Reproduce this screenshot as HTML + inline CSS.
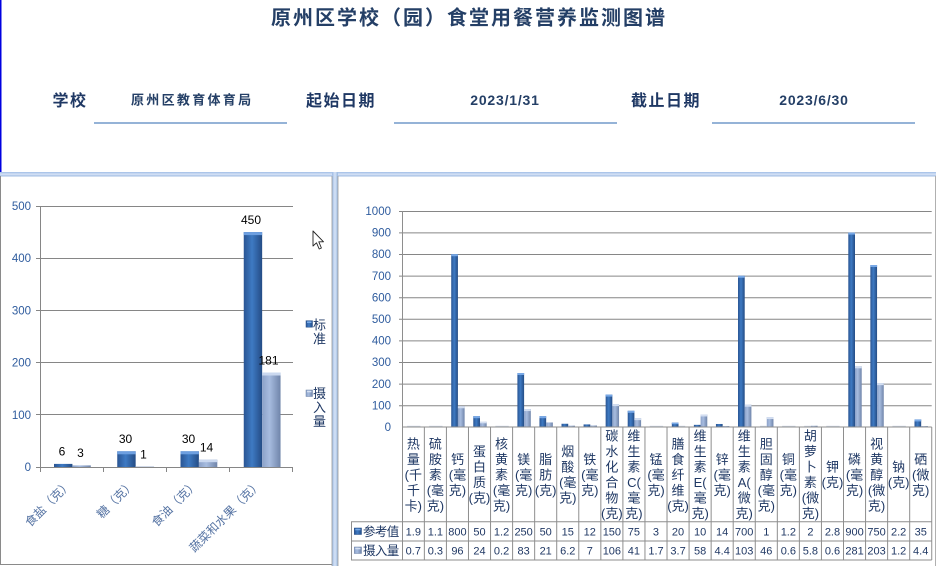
<!DOCTYPE html>
<html><head><meta charset="utf-8">
<style>
html,body{margin:0;padding:0;background:#fff;}
svg{display:block;}
text{font-family:"Liberation Sans","Noto Sans CJK SC",sans-serif;}
</style></head>
<body>
<svg width="936" height="566" viewBox="0 0 936 566" xmlns="http://www.w3.org/2000/svg">
<defs>
<linearGradient id="gb" x1="0" x2="1" y1="0" y2="0"><stop offset="0" stop-color="#2a5593"/><stop offset=".45" stop-color="#3e7ac3"/><stop offset="1" stop-color="#244c85"/></linearGradient>
<linearGradient id="gg" x1="0" x2="1" y1="0" y2="0"><stop offset="0" stop-color="#8ba1c8"/><stop offset=".4" stop-color="#a7bcdf"/><stop offset="1" stop-color="#7085aa"/></linearGradient>
<linearGradient id="hb" x1="0" x2="0" y1="0" y2="1"><stop offset="0" stop-color="#9fbce6"/><stop offset=".5" stop-color="#d6e3f6"/><stop offset="1" stop-color="#9ab8e0"/></linearGradient>
<linearGradient id="vb" x1="0" x2="1" y1="0" y2="0"><stop offset="0" stop-color="#9fbce6"/><stop offset=".5" stop-color="#d6e3f6"/><stop offset="1" stop-color="#9ab8e0"/></linearGradient>
</defs>

<!-- page edge -->
<rect x="0" y="0" width="1.5" height="173" fill="#0000e0"/>

<!-- header -->
<text x="469" y="24.5" text-anchor="middle" font-size="20" font-weight="bold" letter-spacing="2" fill="#243f66">原州区学校（园）食堂用餐营养监测图谱</text>
<text x="52.5" y="106" font-size="16" font-weight="bold" letter-spacing="1.5" fill="#1f3864">学校</text>
<text x="131" y="104.5" font-size="13" font-weight="bold" letter-spacing="2.3" fill="#243f66">原州区教育体育局</text>
<text x="306" y="106" font-size="16" font-weight="bold" letter-spacing="1.5" fill="#1f3864">起始日期</text>
<text x="505" y="105" text-anchor="middle" font-size="14" font-weight="bold" letter-spacing="0.8" fill="#243f66">2023/1/31</text>
<text x="631" y="106" font-size="16" font-weight="bold" letter-spacing="1.5" fill="#1f3864">截止日期</text>
<text x="814" y="105" text-anchor="middle" font-size="14" font-weight="bold" letter-spacing="0.8" fill="#243f66">2023/6/30</text>
<rect x="94" y="122" width="193" height="2" fill="#95b3d7"/>
<rect x="394" y="122" width="223" height="2" fill="#95b3d7"/>
<rect x="712" y="122" width="203" height="2" fill="#95b3d7"/>

<!-- panel frames -->
<rect x="0" y="172" width="936" height="4.5" fill="url(#hb)"/>
<rect x="332" y="172" width="6" height="394" fill="url(#vb)"/>
<line x1="0.5" y1="176" x2="0.5" y2="565" stroke="#8a8a8a"/>
<line x1="0" y1="564.5" x2="332" y2="564.5" stroke="#8a8a8a"/>
<line x1="332" y1="176" x2="332" y2="566" stroke="#9a9a9a" stroke-width="0.8"/>
<line x1="338" y1="176" x2="338" y2="566" stroke="#9a9a9a" stroke-width="0.8"/>
<line x1="935.5" y1="176" x2="935.5" y2="566" stroke="#b0b0b0"/>

<!-- ===== LEFT CHART ===== -->
<g stroke="#868686" stroke-width="1">
<line x1="40" y1="206.5" x2="293" y2="206.5"/>
<line x1="40" y1="258.5" x2="293" y2="258.5"/>
<line x1="40" y1="310.5" x2="293" y2="310.5"/>
<line x1="40" y1="362.5" x2="293" y2="362.5"/>
<line x1="40" y1="414.5" x2="293" y2="414.5"/>
<line x1="36" y1="467.5" x2="293" y2="467.5"/>
<line x1="40.5" y1="206" x2="40.5" y2="472"/>
<line x1="36" y1="206.5" x2="40" y2="206.5"/>
<line x1="36" y1="258.5" x2="40" y2="258.5"/>
<line x1="36" y1="310.5" x2="40" y2="310.5"/>
<line x1="36" y1="362.5" x2="40" y2="362.5"/>
<line x1="36" y1="414.5" x2="40" y2="414.5"/>
<line x1="103.5" y1="467" x2="103.5" y2="472"/>
<line x1="166.5" y1="467" x2="166.5" y2="472"/>
<line x1="229.5" y1="467" x2="229.5" y2="472"/>
<line x1="292.5" y1="467" x2="292.5" y2="472"/>
</g>
<g font-size="11.5" fill="#2f5c9e" text-anchor="end">
<text x="31" y="210">500</text>
<text x="31" y="262.2">400</text>
<text x="31" y="314.4">300</text>
<text x="31" y="366.6">200</text>
<text x="31" y="418.8">100</text>
<text x="31" y="471">0</text>
</g>
<!-- left bars -->
<rect x="54" y="463.9" width="18.4" height="3.1" fill="url(#gb)"/>
<rect x="72.4" y="465.4" width="18.4" height="1.6" fill="url(#gg)"/>
<rect x="117.25" y="451.3" width="18.4" height="15.7" fill="url(#gb)"/>
<rect x="117.25" y="451.3" width="18.4" height="3" fill="#6d9fe0"/>
<rect x="135.65" y="466" width="18.4" height="1" fill="#d0d8e6"/>
<rect x="180.5" y="451.3" width="18.4" height="15.7" fill="url(#gb)"/>
<rect x="180.5" y="451.3" width="18.4" height="3" fill="#6d9fe0"/>
<rect x="198.9" y="459.7" width="18.4" height="7.3" fill="url(#gg)"/>
<rect x="198.9" y="459.7" width="18.4" height="2.5" fill="#cad8ef"/>
<rect x="243.75" y="232.1" width="18.4" height="234.9" fill="url(#gb)"/>
<rect x="243.75" y="232.1" width="18.4" height="3" fill="#6d9fe0"/>
<rect x="262.15" y="372.5" width="18.4" height="94.5" fill="url(#gg)"/>
<rect x="262.15" y="372.5" width="18.4" height="3" fill="#cad8ef"/>
<g font-size="12" fill="#000" text-anchor="middle">
<text x="62" y="455.6">6</text>
<text x="80.5" y="457.2">3</text>
<text x="125.5" y="443.1">30</text>
<text x="143.5" y="458.3">1</text>
<text x="188.5" y="443.1">30</text>
<text x="206.5" y="451.5">14</text>
<text x="251" y="223.9">450</text>
<text x="268.5" y="364.3">181</text>
</g>
<g font-size="12" fill="#5573a3" text-anchor="end">
<text transform="translate(72.5,485) rotate(-45)">食盐（克）</text>
<text transform="translate(135.8,485) rotate(-45)">糖（克）</text>
<text transform="translate(199,485) rotate(-45)">食油（克）</text>
<text transform="translate(262.4,485) rotate(-45)">蔬菜和水果（克）</text>
</g>
<!-- left legend -->
<rect x="306" y="320.7" width="6.5" height="6.5" fill="url(#gb)" stroke="#244c85" stroke-width="0.5"/>
<rect x="307" y="321.5" width="4.5" height="1.5" fill="#7aaae6"/>
<g font-size="13" fill="#1f3864">
<text x="313" y="329.5">标</text>
<text x="313" y="343.5">准</text>
<text x="313" y="398">摄</text>
<text x="313" y="412">入</text>
<text x="313" y="426">量</text>
</g>
<rect x="306" y="390" width="6.5" height="6.5" fill="url(#gg)" stroke="#6e82a6" stroke-width="0.5"/>
<rect x="307" y="390.8" width="4.5" height="1.5" fill="#d5e0f2"/>
<!-- cursor -->
<polygon points="313,231 313,246 316.5,242.8 319.2,249 321.4,248 318.8,241.8 323.5,241.8" fill="#fff" stroke="#222" stroke-width="0.9" stroke-linejoin="round"/>

<!-- ===== RIGHT CHART ===== -->
<g stroke="#868686" stroke-width="1">
<line x1="399" y1="211.5" x2="931.7" y2="211.5"/>
<line x1="399" y1="232.9" x2="931.7" y2="232.9"/>
<line x1="399" y1="254.5" x2="931.7" y2="254.5"/>
<line x1="399" y1="276.1" x2="931.7" y2="276.1"/>
<line x1="399" y1="297.7" x2="931.7" y2="297.7"/>
<line x1="399" y1="319.3" x2="931.7" y2="319.3"/>
<line x1="399" y1="340.9" x2="931.7" y2="340.9"/>
<line x1="399" y1="362.5" x2="931.7" y2="362.5"/>
<line x1="399" y1="384.1" x2="931.7" y2="384.1"/>
<line x1="399" y1="405.7" x2="931.7" y2="405.7"/>
</g>
<g font-size="11.5" fill="#2f5c9e" text-anchor="end">
<text x="391" y="215">1000</text>
<text x="391" y="236.6">900</text>
<text x="391" y="258.2">800</text>
<text x="391" y="279.8">700</text>
<text x="391" y="301.4">600</text>
<text x="391" y="323">500</text>
<text x="391" y="344.6">400</text>
<text x="391" y="366.2">300</text>
<text x="391" y="387.8">200</text>
<text x="391" y="409.4">100</text>
<text x="391" y="431">0</text>
</g>

<!-- right bars: blue (参考值) -->
<g fill="url(#gb)">
<rect x="451.22" y="254.2" width="6.7" height="172.8"/>
<rect x="473.28" y="416.2" width="6.7" height="10.8"/>
<rect x="517.4" y="373" width="6.7" height="54"/>
<rect x="539.46" y="416.2" width="6.7" height="10.8"/>
<rect x="561.52" y="423.76" width="6.7" height="3.24"/>
<rect x="583.58" y="424.41" width="6.7" height="2.59"/>
<rect x="605.64" y="394.6" width="6.7" height="32.4"/>
<rect x="627.7" y="410.8" width="6.7" height="16.2"/>
<rect x="671.82" y="422.68" width="6.7" height="4.32"/>
<rect x="693.88" y="424.84" width="6.7" height="2.16"/>
<rect x="715.94" y="423.98" width="6.7" height="3.02"/>
<rect x="738" y="275.8" width="6.7" height="151.2"/>
<rect x="848.3" y="232.6" width="6.7" height="194.4"/>
<rect x="870.36" y="265" width="6.7" height="162"/>
<rect x="914.48" y="419.44" width="6.7" height="7.56"/>
</g>
<g fill="#78a8e6">
<rect x="451.22" y="254.2" width="6.7" height="2"/>
<rect x="473.28" y="416.2" width="6.7" height="2"/>
<rect x="517.4" y="373" width="6.7" height="2"/>
<rect x="539.46" y="416.2" width="6.7" height="2"/>
<rect x="605.64" y="394.6" width="6.7" height="2"/>
<rect x="627.7" y="410.8" width="6.7" height="2"/>
<rect x="671.82" y="422.68" width="6.7" height="1.5"/>
<rect x="738" y="275.8" width="6.7" height="2"/>
<rect x="848.3" y="232.6" width="6.7" height="2"/>
<rect x="870.36" y="265" width="6.7" height="2"/>
<rect x="914.48" y="419.44" width="6.7" height="2"/>
</g>
<!-- right bars: gray (摄入量) -->
<g fill="url(#gg)">
<rect x="457.92" y="406.26" width="6.7" height="20.74"/>
<rect x="479.98" y="421.82" width="6.7" height="5.18"/>
<rect x="524.1" y="409.07" width="6.7" height="17.93"/>
<rect x="546.16" y="422.46" width="6.7" height="4.54"/>
<rect x="568.22" y="425.66" width="6.7" height="1.34"/>
<rect x="590.28" y="425.49" width="6.7" height="1.51"/>
<rect x="612.34" y="404.1" width="6.7" height="22.9"/>
<rect x="634.4" y="418.14" width="6.7" height="8.86"/>
<rect x="700.58" y="414.47" width="6.7" height="12.53"/>
<rect x="722.64" y="426.05" width="6.7" height="0.95"/>
<rect x="744.7" y="404.75" width="6.7" height="22.25"/>
<rect x="766.76" y="417.06" width="6.7" height="9.94"/>
<rect x="810.88" y="425.75" width="6.7" height="1.25"/>
<rect x="855" y="366.3" width="6.7" height="60.7"/>
<rect x="877.06" y="383.15" width="6.7" height="43.85"/>
<rect x="921.18" y="426.05" width="6.7" height="0.95"/>
</g>
<g fill="#d3def1">
<rect x="457.92" y="406.26" width="6.7" height="2"/>
<rect x="479.98" y="421.82" width="6.7" height="1.5"/>
<rect x="524.1" y="409.07" width="6.7" height="2"/>
<rect x="612.34" y="404.1" width="6.7" height="2"/>
<rect x="634.4" y="418.14" width="6.7" height="2"/>
<rect x="700.58" y="414.47" width="6.7" height="2"/>
<rect x="744.7" y="404.75" width="6.7" height="2"/>
<rect x="766.76" y="417.06" width="6.7" height="2"/>
<rect x="855" y="366.3" width="6.7" height="2"/>
<rect x="877.06" y="383.15" width="6.7" height="2"/>
</g>
<!-- tiny bars -->
<g fill="#ccd5e3">
<rect x="407.1" y="425.8" width="13.4" height="1.2"/>
<rect x="429.16" y="425.8" width="13.4" height="1.2"/>
<rect x="495.34" y="425.8" width="13.4" height="1.2"/>
<rect x="649.76" y="425.8" width="13.4" height="1.2"/>
<rect x="678.52" y="425.8" width="6.7" height="1.2"/>
<rect x="760.06" y="425.8" width="6.7" height="1.2"/>
<rect x="782.12" y="425.8" width="13.4" height="1.2"/>
<rect x="804.18" y="425.8" width="6.7" height="1.2"/>
<rect x="826.24" y="425.8" width="13.4" height="1.2"/>
<rect x="892.42" y="425.8" width="13.4" height="1.2"/>
</g>

<!-- table grid -->
<g stroke="#8e8e8e" stroke-width="1">
<line x1="402.3" y1="427" x2="931.74" y2="427"/>
<line x1="351" y1="521.7" x2="931.74" y2="521.7"/>
<line x1="351" y1="541" x2="931.74" y2="541"/>
<line x1="351" y1="560" x2="931.74" y2="560"/>
<line x1="351.5" y1="521.7" x2="351.5" y2="560"/>
<line x1="402.5" y1="211" x2="402.5" y2="560"/>
<line x1="424.36" y1="427" x2="424.36" y2="560"/>
<line x1="446.42" y1="427" x2="446.42" y2="560"/>
<line x1="468.48" y1="427" x2="468.48" y2="560"/>
<line x1="490.54" y1="427" x2="490.54" y2="560"/>
<line x1="512.6" y1="427" x2="512.6" y2="560"/>
<line x1="534.66" y1="427" x2="534.66" y2="560"/>
<line x1="556.72" y1="427" x2="556.72" y2="560"/>
<line x1="578.78" y1="427" x2="578.78" y2="560"/>
<line x1="600.84" y1="427" x2="600.84" y2="560"/>
<line x1="622.9" y1="427" x2="622.9" y2="560"/>
<line x1="644.96" y1="427" x2="644.96" y2="560"/>
<line x1="667.02" y1="427" x2="667.02" y2="560"/>
<line x1="689.08" y1="427" x2="689.08" y2="560"/>
<line x1="711.14" y1="427" x2="711.14" y2="560"/>
<line x1="733.2" y1="427" x2="733.2" y2="560"/>
<line x1="755.26" y1="427" x2="755.26" y2="560"/>
<line x1="777.32" y1="427" x2="777.32" y2="560"/>
<line x1="799.38" y1="427" x2="799.38" y2="560"/>
<line x1="821.44" y1="427" x2="821.44" y2="560"/>
<line x1="843.5" y1="427" x2="843.5" y2="560"/>
<line x1="865.56" y1="427" x2="865.56" y2="560"/>
<line x1="887.62" y1="427" x2="887.62" y2="560"/>
<line x1="909.68" y1="427" x2="909.68" y2="560"/>
<line x1="931.74" y1="427" x2="931.74" y2="560"/>
</g>

<!-- category labels -->
<g font-size="13" fill="#1f3864" text-anchor="middle">
<text x="413.33" y="448.25">热<tspan x="413.33" dy="15.5">量</tspan><tspan x="413.33" dy="15.5">(千</tspan><tspan x="413.33" dy="15.5">千</tspan><tspan x="413.33" dy="15.5">卡)</tspan></text>
<text x="435.39" y="448.25">硫<tspan x="435.39" dy="15.5">胺</tspan><tspan x="435.39" dy="15.5">素</tspan><tspan x="435.39" dy="15.5">(毫</tspan><tspan x="435.39" dy="15.5">克)</tspan></text>
<text x="457.45" y="463.75">钙<tspan x="457.45" dy="15.5">(毫</tspan><tspan x="457.45" dy="15.5">克)</tspan></text>
<text x="479.51" y="456">蛋<tspan x="479.51" dy="15.5">白</tspan><tspan x="479.51" dy="15.5">质</tspan><tspan x="479.51" dy="15.5">(克)</tspan></text>
<text x="501.57" y="448.25">核<tspan x="501.57" dy="15.5">黄</tspan><tspan x="501.57" dy="15.5">素</tspan><tspan x="501.57" dy="15.5">(毫</tspan><tspan x="501.57" dy="15.5">克)</tspan></text>
<text x="523.63" y="463.75">镁<tspan x="523.63" dy="15.5">(毫</tspan><tspan x="523.63" dy="15.5">克)</tspan></text>
<text x="545.69" y="463.75">脂<tspan x="545.69" dy="15.5">肪</tspan><tspan x="545.69" dy="15.5">(克)</tspan></text>
<text x="567.75" y="456">烟<tspan x="567.75" dy="15.5">酸</tspan><tspan x="567.75" dy="15.5">(毫</tspan><tspan x="567.75" dy="15.5">克)</tspan></text>
<text x="589.81" y="463.75">铁<tspan x="589.81" dy="15.5">(毫</tspan><tspan x="589.81" dy="15.5">克)</tspan></text>
<text x="611.87" y="440.5">碳<tspan x="611.87" dy="15.5">水</tspan><tspan x="611.87" dy="15.5">化</tspan><tspan x="611.87" dy="15.5">合</tspan><tspan x="611.87" dy="15.5">物</tspan><tspan x="611.87" dy="15.5">(克)</tspan></text>
<text x="633.93" y="440.5">维<tspan x="633.93" dy="15.5">生</tspan><tspan x="633.93" dy="15.5">素</tspan><tspan x="633.93" dy="15.5">C(</tspan><tspan x="633.93" dy="15.5">毫</tspan><tspan x="633.93" dy="15.5">克)</tspan></text>
<text x="655.99" y="463.75">锰<tspan x="655.99" dy="15.5">(毫</tspan><tspan x="655.99" dy="15.5">克)</tspan></text>
<text x="678.05" y="448.25">膳<tspan x="678.05" dy="15.5">食</tspan><tspan x="678.05" dy="15.5">纤</tspan><tspan x="678.05" dy="15.5">维</tspan><tspan x="678.05" dy="15.5">(克)</tspan></text>
<text x="700.11" y="440.5">维<tspan x="700.11" dy="15.5">生</tspan><tspan x="700.11" dy="15.5">素</tspan><tspan x="700.11" dy="15.5">E(</tspan><tspan x="700.11" dy="15.5">毫</tspan><tspan x="700.11" dy="15.5">克)</tspan></text>
<text x="722.17" y="463.75">锌<tspan x="722.17" dy="15.5">(毫</tspan><tspan x="722.17" dy="15.5">克)</tspan></text>
<text x="744.23" y="440.5">维<tspan x="744.23" dy="15.5">生</tspan><tspan x="744.23" dy="15.5">素</tspan><tspan x="744.23" dy="15.5">A(</tspan><tspan x="744.23" dy="15.5">微</tspan><tspan x="744.23" dy="15.5">克)</tspan></text>
<text x="766.29" y="448.25">胆<tspan x="766.29" dy="15.5">固</tspan><tspan x="766.29" dy="15.5">醇</tspan><tspan x="766.29" dy="15.5">(毫</tspan><tspan x="766.29" dy="15.5">克)</tspan></text>
<text x="788.35" y="463.75">铜<tspan x="788.35" dy="15.5">(毫</tspan><tspan x="788.35" dy="15.5">克)</tspan></text>
<text x="810.41" y="440.5">胡<tspan x="810.41" dy="15.5">萝</tspan><tspan x="810.41" dy="15.5">卜</tspan><tspan x="810.41" dy="15.5">素</tspan><tspan x="810.41" dy="15.5">(微</tspan><tspan x="810.41" dy="15.5">克)</tspan></text>
<text x="832.47" y="471.5">钾<tspan x="832.47" dy="15.5">(克)</tspan></text>
<text x="854.53" y="463.75">磷<tspan x="854.53" dy="15.5">(毫</tspan><tspan x="854.53" dy="15.5">克)</tspan></text>
<text x="876.59" y="448.25">视<tspan x="876.59" dy="15.5">黄</tspan><tspan x="876.59" dy="15.5">醇</tspan><tspan x="876.59" dy="15.5">(微</tspan><tspan x="876.59" dy="15.5">克)</tspan></text>
<text x="898.65" y="471.5">钠<tspan x="898.65" dy="15.5">(克)</tspan></text>
<text x="920.71" y="463.75">硒<tspan x="920.71" dy="15.5">(微</tspan><tspan x="920.71" dy="15.5">克)</tspan></text>
</g>

<!-- row headers -->
<rect x="354.3" y="528" width="7.2" height="6.5" fill="url(#gb)" stroke="#244c85" stroke-width="0.5"/>
<rect x="355.3" y="528.8" width="5.2" height="1.5" fill="#7aaae6"/>
<rect x="354.3" y="547" width="7.2" height="6.5" fill="url(#gg)" stroke="#6e82a6" stroke-width="0.5"/>
<rect x="355.3" y="547.8" width="5.2" height="1.5" fill="#d5e0f2"/>
<g font-size="12.5" fill="#1f3864" letter-spacing="-0.6">
<text x="363" y="536">参考值</text>
<text x="363" y="555">摄入量</text>
</g>

<!-- values -->
<g font-size="11" fill="#203864" text-anchor="middle">
<text x="413.33" y="535.4">1.9</text>
<text x="435.39" y="535.4">1.1</text>
<text x="457.45" y="535.4">800</text>
<text x="479.51" y="535.4">50</text>
<text x="501.57" y="535.4">1.2</text>
<text x="523.63" y="535.4">250</text>
<text x="545.69" y="535.4">50</text>
<text x="567.75" y="535.4">15</text>
<text x="589.81" y="535.4">12</text>
<text x="611.87" y="535.4">150</text>
<text x="633.93" y="535.4">75</text>
<text x="655.99" y="535.4">3</text>
<text x="678.05" y="535.4">20</text>
<text x="700.11" y="535.4">10</text>
<text x="722.17" y="535.4">14</text>
<text x="744.23" y="535.4">700</text>
<text x="766.29" y="535.4">1</text>
<text x="788.35" y="535.4">1.2</text>
<text x="810.41" y="535.4">2</text>
<text x="832.47" y="535.4">2.8</text>
<text x="854.53" y="535.4">900</text>
<text x="876.59" y="535.4">750</text>
<text x="898.65" y="535.4">2.2</text>
<text x="920.71" y="535.4">35</text>

<text x="413.33" y="554.4">0.7</text>
<text x="435.39" y="554.4">0.3</text>
<text x="457.45" y="554.4">96</text>
<text x="479.51" y="554.4">24</text>
<text x="501.57" y="554.4">0.2</text>
<text x="523.63" y="554.4">83</text>
<text x="545.69" y="554.4">21</text>
<text x="567.75" y="554.4">6.2</text>
<text x="589.81" y="554.4">7</text>
<text x="611.87" y="554.4">106</text>
<text x="633.93" y="554.4">41</text>
<text x="655.99" y="554.4">1.7</text>
<text x="678.05" y="554.4">3.7</text>
<text x="700.11" y="554.4">58</text>
<text x="722.17" y="554.4">4.4</text>
<text x="744.23" y="554.4">103</text>
<text x="766.29" y="554.4">46</text>
<text x="788.35" y="554.4">0.6</text>
<text x="810.41" y="554.4">5.8</text>
<text x="832.47" y="554.4">0.6</text>
<text x="854.53" y="554.4">281</text>
<text x="876.59" y="554.4">203</text>
<text x="898.65" y="554.4">1.2</text>
<text x="920.71" y="554.4">4.4</text>
</g>
</svg>
</body></html>
